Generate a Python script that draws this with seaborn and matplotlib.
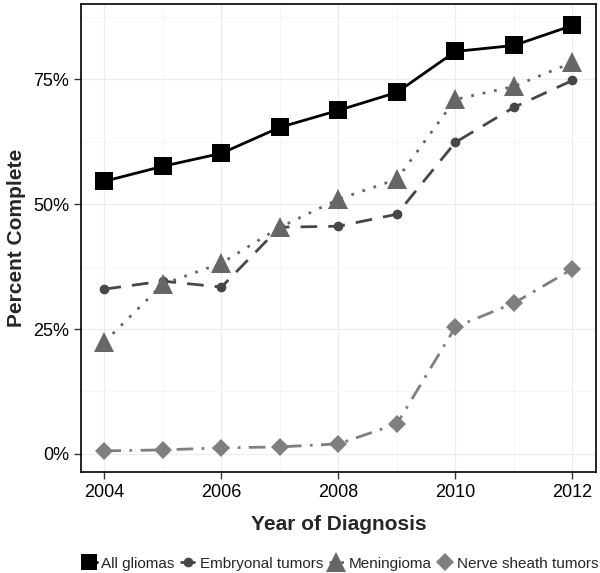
import matplotlib

matplotlib.use("Agg")
import matplotlib.pyplot as plt
import pandas as pd
import seaborn as sns
from matplotlib.ticker import FuncFormatter, MultipleLocator

years = [2004, 2005, 2006, 2007, 2008, 2009, 2010, 2011, 2012]
all_gliomas = [54.6, 57.6, 60.2, 65.4, 68.8, 72.4, 80.6, 81.8, 85.8]
embryonal = [33.0, 34.6, 33.4, 45.4, 45.6, 48.0, 62.4, 69.4, 74.8]
meningioma = [22.4, 34.0, 38.2, 45.4, 51.0, 55.0, 71.0, 73.6, 78.4]
nerve_sheath = [0.6, 0.8, 1.2, 1.4, 2.0, 6.0, 25.4, 30.2, 37.0]

groups = ["All gliomas", "Embryonal tumors", "Meningioma", "Nerve sheath tumors"]
series = [all_gliomas, embryonal, meningioma, nerve_sheath]

frame = pd.DataFrame(
    [
        {"year": year, "pct": value, "group": group}
        for group, values in zip(groups, series)
        for year, value in zip(years, values)
    ]
)

palette = dict(zip(groups, ["#000000", "#474747", "#666666", "#7f7f7f"]))
markers = dict(zip(groups, ["s", "o", "^", "D"]))
dashes = dict(zip(groups, ["", (6, 4), (1, 3.2), (6, 3, 1, 3)]))
marker_sizes = dict(zip(groups, [13, 7, 15, 9]))
legend_marker_sizes = dict(zip(groups, [12, 7, 15, 9]))

sns.set_theme(style="whitegrid")
plt.rcParams["font.family"] = ["Liberation Sans", "DejaVu Sans"]

fig = plt.figure(figsize=(6.0, 5.73), dpi=100)
ax = fig.add_axes([0.135, 0.176, 0.858, 0.817])

sns.lineplot(
    data=frame,
    x="year",
    y="pct",
    hue="group",
    style="group",
    palette=palette,
    markers=markers,
    dashes=dashes,
    linewidth=2,
    markeredgewidth=0,
    ax=ax,
)
for line, group in zip(ax.get_lines(), groups):
    line.set_markersize(marker_sizes[group])

ax.set_xlim(2003.6, 2012.4)
ax.set_ylim(-3.66, 90.1)
ax.xaxis.set_major_locator(MultipleLocator(2))
ax.xaxis.set_minor_locator(MultipleLocator(1))
ax.yaxis.set_major_locator(MultipleLocator(25))
ax.yaxis.set_minor_locator(MultipleLocator(12.5))
ax.yaxis.set_major_formatter(FuncFormatter(lambda v, _: f"{v:.0f}%"))

ax.grid(which="major", color="#ececec", linewidth=0.8)
ax.grid(which="minor", color="#f5f5f5", linewidth=0.6)
for spine in ax.spines.values():
    spine.set_color("black")
    spine.set_linewidth(1.2)
ax.tick_params(
    which="major", direction="out", length=5, width=1, color="#333333",
    labelsize=13, labelcolor="black", bottom=True, left=True,
)
ax.tick_params(which="minor", length=0)

ax.set_xlabel("Year of Diagnosis", fontsize=15, fontweight="bold", labelpad=10)
ax.set_ylabel("Percent Complete", fontsize=15, fontweight="bold", labelpad=5)

handles, labels = ax.get_legend_handles_labels()
legend = ax.legend(
    handles,
    labels,
    loc="upper center",
    bbox_to_anchor=(0.503, -0.158),
    ncol=4,
    frameon=False,
    fontsize=11,
    handlelength=1.0,
    handletextpad=0.3,
    columnspacing=0.35,
    borderpad=0.2,
)
for handle, text in zip(legend.legend_handles, legend.get_texts()):
    handle.set_markersize(legend_marker_sizes[text.get_text()])

fig.savefig("out.png", dpi=100)
